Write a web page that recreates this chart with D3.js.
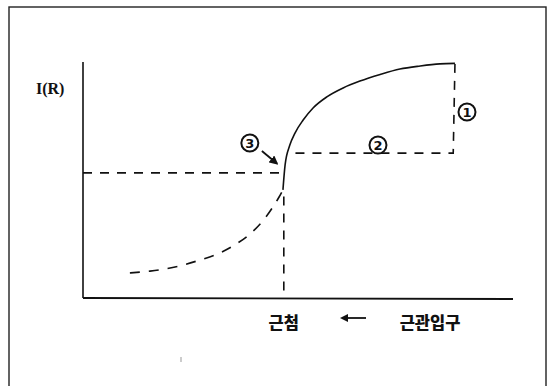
<!DOCTYPE html>
<html>
<head>
<meta charset="utf-8">
<title>I(R)</title>
<script src="https://d3js.org/d3.v7.min.js"></script>
<style>
body { margin: 0; background: #fff; }
svg { display: block; }
.lbl { font-family: 'Noto Sans CJK KR', sans-serif; font-weight: 900; font-size: 16.5px; fill: #111; }
.num { font-family: 'DejaVu Sans', sans-serif; font-weight: 700; font-size: 13px; fill: #111; }
</style>
</head>
<body>
<script>
// curve data, x and y in 0..100 units
var solidX = [46.5, 47.0, 48.1, 49.3, 51.2, 53.5, 56.7, 60.5, 64.4, 69.1, 73.7, 78.4, 83.0, 86.5];
var solidY = [45.8, 56.4, 64.8, 69.9, 75.4, 80.5, 85.2, 89.0, 91.9, 94.7, 97.0, 98.3, 99.2, 99.4];

var lowX = [10.9, 15.6, 21.4, 27.2, 31.2, 35.3, 38.8, 41.6, 44.0, 45.6, 46.5];
var lowY = [10.6, 11.4, 13.1, 16.1, 18.6, 22.5, 27.1, 32.2, 38.1, 42.8, 45.8];

var levelLeft = 53.0;     // horizontal dashed level to the left
var tipX = 46.7;          // apex position (근첨)
var tipTop = 43.0;
var stepX = [86.5, 86.1, 49.3];   // corner of ① / ② box
var stepY = [99.2, 61.4, 61.4];

var xLabels = ["근첨", "←", "근관입구"];
var yLabel = "I(R)";
var marks = [
  {n: "①", x: 89.3, y: 78.8},
  {n: "②", x: 68.6, y: 64.8},
  {n: "③", x: 38.8, y: 65.7}
];

var w = 549, h = 386;
var x = d3.scaleLinear().domain([0, 100]).range([83, 513]);
var y = d3.scaleLinear().domain([0, 100]).range([298, 62]);

var svg = d3.select("body").append("svg")
  .attr("width", w)
  .attr("height", h);

// outer frame (bottom edge cut off)
svg.append("rect")
  .attr("x", 9).attr("y", 7)
  .attr("width", 537).attr("height", 420)
  .attr("fill", "none").attr("stroke", "#222").attr("stroke-width", 1.4);

// axes
svg.append("line")
  .attr("x1", x(0)).attr("y1", y(100)).attr("x2", x(0)).attr("y2", y(0))
  .attr("stroke", "#111").attr("stroke-width", 1.6);
svg.append("line")
  .attr("x1", x(0)).attr("y1", y(0)).attr("x2", x(100)).attr("y2", y(0) + 1)
  .attr("stroke", "#111").attr("stroke-width", 1.8);

var line = d3.line()
  .x(function(d){return x(d[0]);})
  .y(function(d){return y(d[1]);})
  .curve(d3.curveMonotoneX);

var dash = "9,8";

svg.append("path")
  .attr("d", line(d3.zip(solidX, solidY)))
  .attr("fill", "none").attr("stroke", "#111").attr("stroke-width", 1.6);

svg.append("path")
  .attr("d", line(d3.zip(lowX, lowY)))
  .attr("fill", "none").attr("stroke", "#111").attr("stroke-width", 1.6)
  .attr("stroke-dasharray", "10,9");

svg.append("line")
  .attr("x1", x(0)).attr("y1", y(levelLeft)).attr("x2", x(tipX) - 1).attr("y2", y(levelLeft))
  .attr("stroke", "#111").attr("stroke-width", 1.6).attr("stroke-dasharray", dash);

svg.append("line")
  .attr("x1", x(tipX)).attr("y1", y(tipTop)).attr("x2", x(tipX)).attr("y2", y(0))
  .attr("stroke", "#111").attr("stroke-width", 1.6).attr("stroke-dasharray", dash);

svg.append("path")
  .attr("d", d3.line().x(function(d){return x(d[0]);}).y(function(d){return y(d[1]);})(d3.zip(stepX, stepY)))
  .attr("fill", "none").attr("stroke", "#111").attr("stroke-width", 1.6)
  .attr("stroke-dasharray", dash);

// circled numbers
var mk = svg.append("g").selectAll("g").data(marks).enter().append("g")
  .attr("transform", function(d){return "translate(" + x(d.x) + "," + y(d.y) + ")";});
mk.append("circle").attr("r", 8.5).attr("fill", "#fff").attr("stroke", "#111").attr("stroke-width", 2);
mk.append("text").attr("class", "num").attr("text-anchor", "middle").attr("y", 4.8)
  .text(function(d){return d.n.charCodeAt(0) - 0x245F;});

// arrow from ③ to the curve
svg.append("defs").append("marker")
  .attr("id", "ah").attr("viewBox", "0 0 10 10").attr("refX", 8).attr("refY", 5)
  .attr("markerWidth", 5).attr("markerHeight", 5).attr("orient", "auto")
  .append("path").attr("d", "M0,0L10,5L0,10z").attr("fill", "#111");
svg.append("line")
  .attr("x1", x(41.6)).attr("y1", y(62.3)).attr("x2", x(45.1)).attr("y2", y(57.0))
  .attr("stroke", "#111").attr("stroke-width", 1.8).attr("marker-end", "url(#ah)");

// labels
svg.append("text")
  .attr("x", 36).attr("y", 94)
  .attr("font-family", "Liberation Serif").attr("font-weight", 700).attr("font-size", 16)
  .attr("fill", "#111").text(yLabel);

svg.append("text").attr("class", "lbl").attr("text-anchor", "middle")
  .attr("x", x(tipX)).attr("y", 329).text(xLabels[0]);
svg.append("text").attr("class", "lbl").attr("text-anchor", "middle")
  .attr("x", 430).attr("y", 329).text(xLabels[2]);

// long left arrow between labels
svg.append("line").attr("x1", 343).attr("y1", 318).attr("x2", 366).attr("y2", 318)
  .attr("stroke", "#111").attr("stroke-width", 1.8);
svg.append("path").attr("d", "M340,318L348,314L348,322z").attr("fill", "#111")
  .append("title").text(xLabels[1]);

// stray scan mark
svg.append("line").attr("x1", 181).attr("y1", 357).attr("x2", 181).attr("y2", 362)
  .attr("stroke", "#999").attr("stroke-width", 1);
</script>
</body>
</html>
